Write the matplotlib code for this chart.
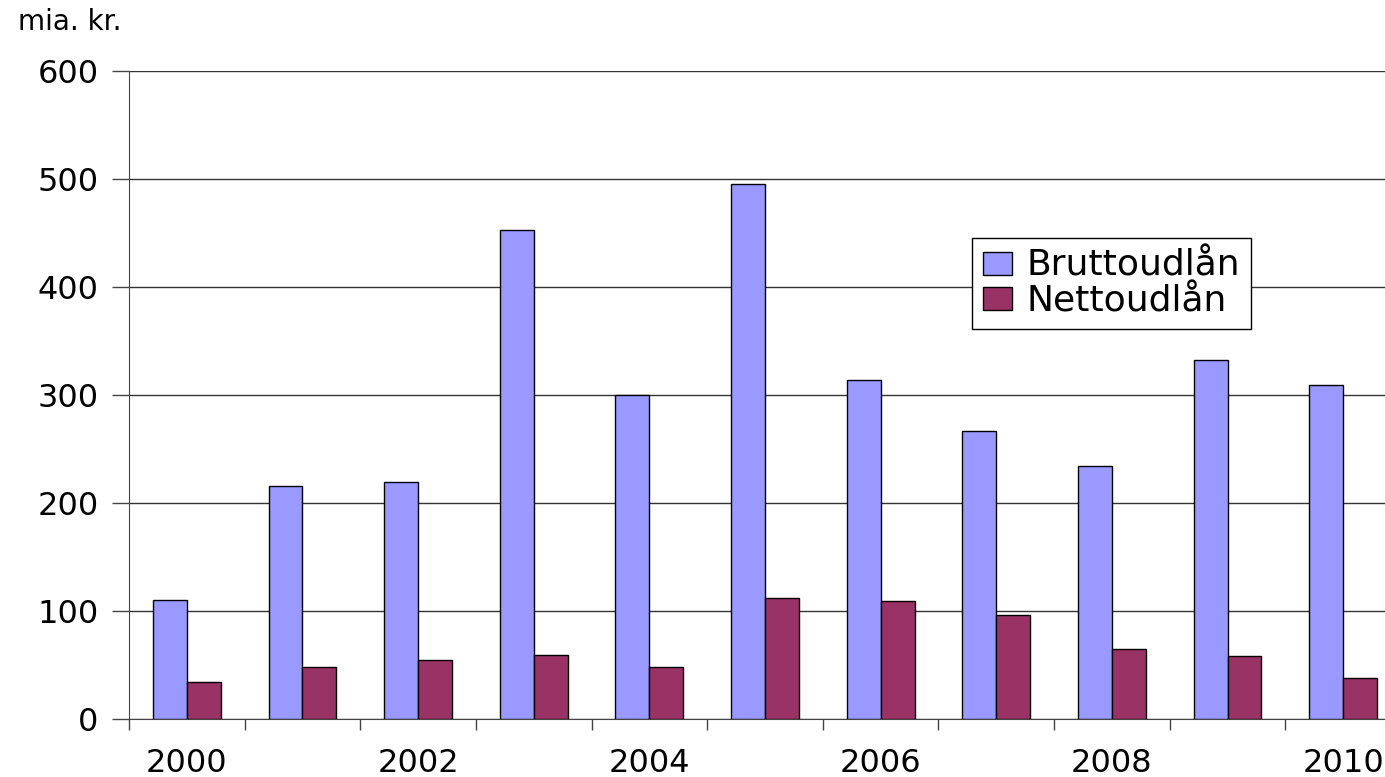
import matplotlib
matplotlib.use("Agg")
import matplotlib.pyplot as plt
import numpy as np

plt.rcParams["font.family"] = ["DejaVu Sans"]

years = list(range(2000, 2011))
brutto = [110, 216, 219, 453, 300, 495, 314, 267, 234, 332, 309]
netto = [34, 48, 55, 59, 48, 112, 109, 96, 65, 58, 38]
yticks = [0, 100, 200, 300, 400, 500, 600]

fig = plt.figure(figsize=(13.85, 7.77), dpi=100)
ax = fig.add_axes([129 / 1385, 1 - 719 / 777, 1272 / 1385, (719 - 71) / 777])

x = np.arange(len(years))
w = 0.293
ax.bar(x - w / 2, brutto, w, color="#9999FF", edgecolor="black", linewidth=1,
       label="Bruttoudlån", zorder=3)
ax.bar(x + w / 2, netto, w, color="#993366", edgecolor="black", linewidth=1,
       label="Nettoudlån", zorder=3)

ax.set_xlim(-0.5, len(years) - 0.5)
ax.set_ylim(0, 600)
ax.set_yticks(yticks)
ax.yaxis.grid(True, color="#333333", linewidth=1, zorder=0)

# major ticks at category boundaries (marks only), labels on even years
ax.set_xticks(np.arange(len(years)) - 0.5)
ax.set_xticklabels([])
ax.set_xticks(x[::2], minor=True)
ax.set_xticklabels([str(y) for y in years[::2]], minor=True)
ax.tick_params(axis="x", which="major", length=8, width=1, color="#444444")
ax.tick_params(axis="x", which="minor", length=0, pad=21, labelsize=23)
ax.tick_params(axis="y", length=12, width=1, color="#444444", pad=10, labelsize=23)

for s in ["top", "right"]:
    ax.spines[s].set_visible(False)
ax.spines["left"].set_color("#444444")
ax.spines["bottom"].set_color("#444444")

fig.text(18 / 1385, 1 - 22 / 777, "mia. kr.", fontsize=20, va="center", ha="left")

leg = ax.legend(loc="upper left", bbox_to_anchor=(972 / 1385, 1 - 238 / 777),
                bbox_transform=fig.transFigure, fontsize=26, frameon=True,
                fancybox=False, edgecolor="black", framealpha=1,
                handlelength=0.8, handleheight=0.6, handletextpad=0.4,
                borderpad=0.3, labelspacing=0.05, borderaxespad=0)
leg.get_frame().set_linewidth(1)

fig.savefig("out.png", dpi=100)
